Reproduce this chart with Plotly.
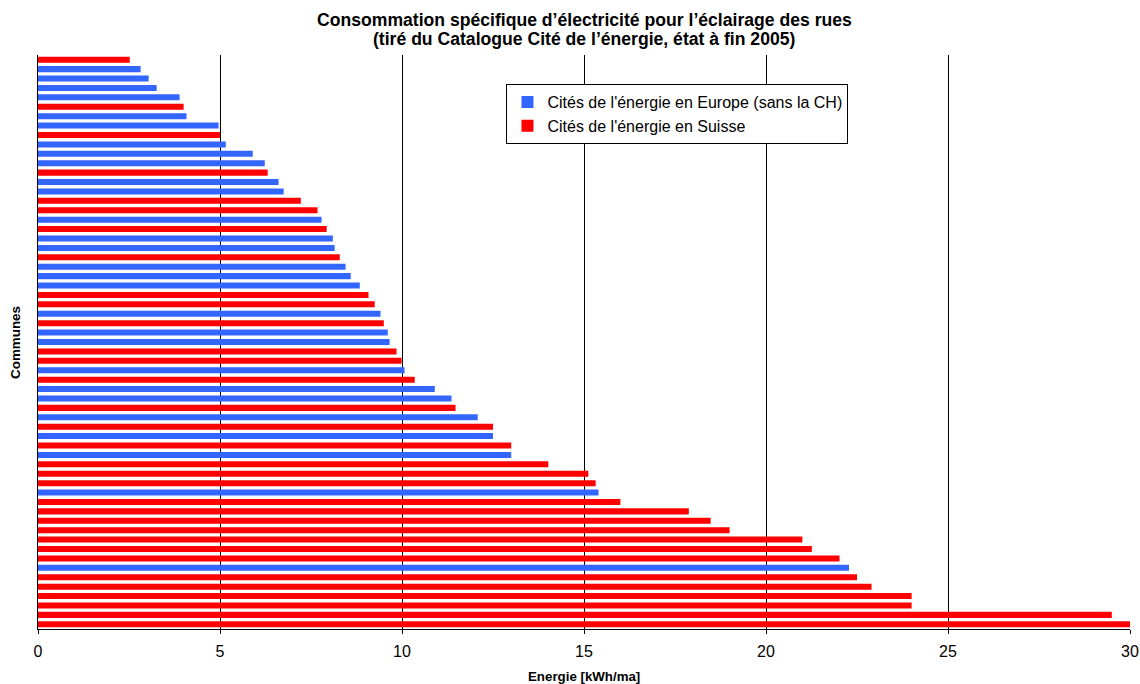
import plotly.graph_objects as go

# Values (kWh/ma) from top to bottom, and the series each belongs to
values = [2.52, 2.82, 3.04, 3.26, 3.89, 4.0, 4.08, 4.96, 5.0, 5.16,
          5.9, 6.23, 6.31, 6.61, 6.75, 7.22, 7.68, 7.79, 7.93, 8.1,
          8.15, 8.29, 8.45, 8.59, 8.84, 9.08, 9.25, 9.41, 9.5, 9.61,
          9.66, 9.85, 9.99, 10.07, 10.35, 10.9, 11.36, 11.47, 12.08, 12.5,
          12.5, 13.0, 13.0, 14.02, 15.12, 15.32, 15.4, 16.0, 17.88, 18.48,
          19.0, 21.0, 21.26, 22.02, 22.28, 22.5, 22.9, 24.0, 24.0, 29.5,
          30.08]
series = ["S", "E", "E", "E", "E", "S", "E", "E", "S", "E",
          "E", "E", "S", "E", "E", "S", "S", "E", "S", "E",
          "E", "S", "E", "E", "E", "S", "S", "E", "S", "E",
          "E", "S", "S", "E", "S", "E", "E", "S", "E", "S",
          "E", "S", "E", "S", "S", "S", "E", "S", "S", "S",
          "S", "S", "S", "S", "E", "S", "S", "S", "S", "S",
          "S"]
communes = list(range(len(values)))

name_e = "Cités de l'énergie en Europe (sans la CH)"
name_s = "Cités de l'énergie en Suisse"
x_ticks = [0, 5, 10, 15, 20, 25, 30]

europe = [v if s == "E" else None for v, s in zip(values, series)]
suisse = [v if s == "S" else None for v, s in zip(values, series)]

fig = go.Figure()
fig.add_trace(go.Bar(x=europe, y=communes, orientation="h", name=name_e,
                     marker=dict(color="#3366FF", line=dict(width=0))))
fig.add_trace(go.Bar(x=suisse, y=communes, orientation="h", name=name_s,
                     marker=dict(color="#FF0000", line=dict(width=0))))

fig.update_layout(
    width=1140, height=684,
    barmode="overlay", bargap=0.36,
    plot_bgcolor="white", paper_bgcolor="white",
    margin=dict(l=38, r=10, t=55, b=55),
    font=dict(family="Liberation Sans, Arial, sans-serif", color="black"),
    showlegend=True,
    legend=dict(x=0.429, y=0.9495, xanchor="left", yanchor="top",
                bgcolor="white", bordercolor="black", borderwidth=1,
                font=dict(size=16), traceorder="normal",
                itemwidth=30, tracegroupgap=0),
    xaxis=dict(range=[0, 30], tickvals=x_ticks, showgrid=True,
               gridcolor="black", gridwidth=1, zeroline=False,
               showline=True, linecolor="black", linewidth=1,
               ticks="outside", ticklen=4, tickcolor="black",
               ticklabelstandoff=4, automargin=False,
               tickfont=dict(size=16)),
    yaxis=dict(range=[len(values) - 0.5, -0.5], showticklabels=False,
               showgrid=False, zeroline=False, showline=True,
               linecolor="black", linewidth=1, ticks=""),
    annotations=[
        dict(text="<b>Consommation spécifique d’électricité pour l’éclairage des rues</b>",
             x=0.5, y=1.061, xref="paper", yref="paper", showarrow=False,
             xanchor="center", yanchor="middle", font=dict(size=17.6)),
        dict(text="<b>(tiré du Catalogue Cité de l’énergie, état à fin 2005)</b>",
             x=0.5, y=1.0279, xref="paper", yref="paper", showarrow=False,
             xanchor="center", yanchor="middle", font=dict(size=17.6)),
        dict(text="<b>Energie [kWh/ma]</b>", x=0.5, y=-0.0819, xref="paper",
             yref="paper", showarrow=False, xanchor="center", yanchor="middle",
             font=dict(size=13.3)),
        dict(text="<b>Communes</b>", x=-0.0211, y=0.5, xref="paper",
             yref="paper", showarrow=False, xanchor="center", yanchor="middle",
             textangle=-90, font=dict(size=13.4)),
    ],
)

fig.write_html("out.html",
               config={"displayModeBar": False},
               post_script="document.body.style.margin='0';document.body.style.overflow='hidden';")
